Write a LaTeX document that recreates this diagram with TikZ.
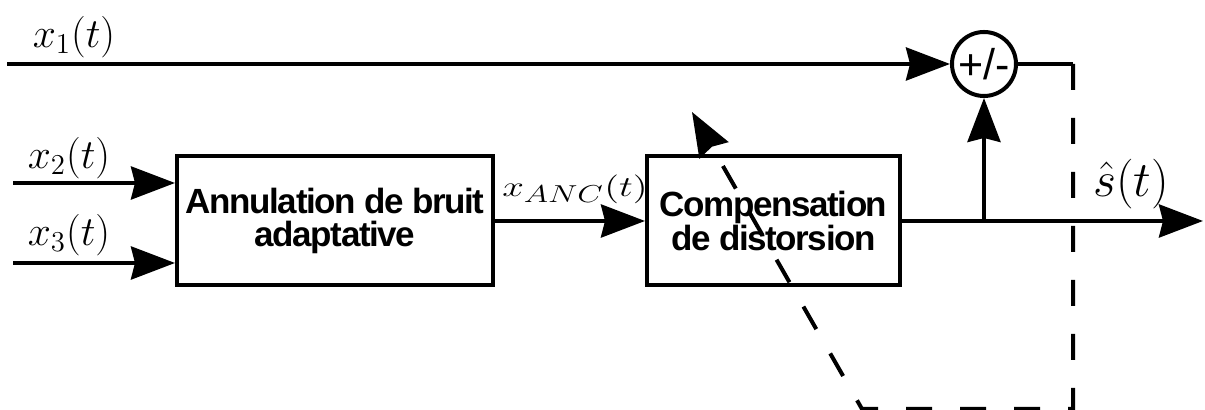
\documentclass[tikz,border=0pt]{standalone}
\usepackage{fontspec}
\usepackage{graphicx}
\usetikzlibrary{arrows.meta}
\newfontfamily\blockfont[LetterSpace=-4]{Liberation Sans}
\newfontfamily\signfont{Liberation Sans}

\tikzset{
  >={Stealth[length=22pt,width=16.5pt,inset=2pt]},
  block/.style={draw, line width=2pt, minimum height=64.5pt, align=center,
    font=\blockfont\bfseries\fontsize{17.5}{16.8}\selectfont},
  summer/.style={draw, circle, line width=2pt, minimum size=32pt, inner sep=0pt,
    font=\signfont\fontsize{21.5}{21.5}\selectfont},
  signal/.style={line width=2pt},
  feedback/.style={line width=2pt, dash pattern=on 13pt off 14pt}
}

\begin{document}
\begin{tikzpicture}[x=0.5pt,y=0.5pt]
    \useasboundingbox (0,0) rectangle (1205,410);

    % Blocks
    \node[block, minimum width=158pt] (anc) at (335,189) {Annulation de bruit\\adaptative};
    \node[block, minimum width=126.5pt] (dist) at (773.5,189) {Compensation\\de distorsion};
    \node[summer] (sum) at (984,346) {+/-};

    % Inputs
    \coordinate (in1) at (7,346);
    \coordinate (in2) at (13,227);
    \coordinate (in3) at (13,147);
    \draw[signal,->] (in1) -- (sum);
    \draw[signal,->] (in2) -- (in2 -| anc.west);
    \draw[signal,->] (in3) -- (in3 -| anc.west);
    \node[font=\huge] (lx1) at (74,373) {$x_1(t)$};
    \node[font=\huge] (lx2) at (69,252) {$x_2(t)$};
    \node[font=\huge] (lx3) at (69,175) {$x_3(t)$};

    % Between the blocks
    \draw[signal,->] (anc.east) -- (dist.west);
    \node[font=\fontsize{13.5}{14}\selectfont] (lanc) at (575,221) {\scalebox{1.35}[1]{$x_{\scalebox{0.85}{$ANC$}}(t)$}};

    % Output and tap to the summer
    \coordinate (out) at (1203,189);
    \coordinate (tap) at (984,189);
    \draw[signal,->] (dist.east) -- (out);
    \draw[signal,->] (tap) -- (sum.south);
    \node[font=\fontsize{27}{27}\selectfont] (lout) at (1131,226) {$\hat{s}(t)$};

    % Feedback (dashed)
    \coordinate (fb1) at (1073,346);
    \coordinate (fb2) at (1073,1);
    \coordinate (fb3) at (862,1);
    \coordinate (fbtip) at (692,298);
    \draw[signal] (sum.east) -- (fb1);
    \draw[feedback,->] (fb1) -- (fb2) -- (fb3) -- (fbtip);

\end{tikzpicture}
\end{document}
